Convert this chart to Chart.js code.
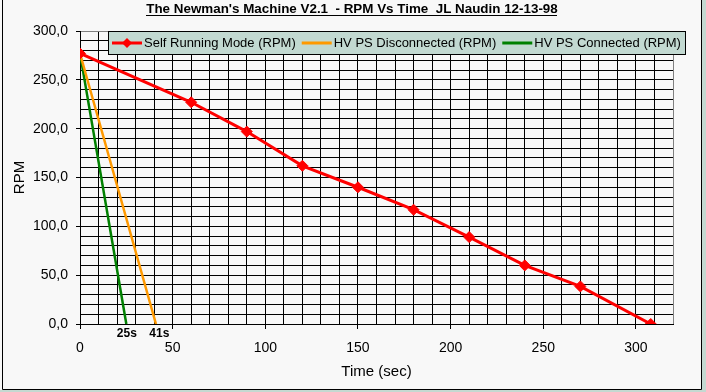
<!DOCTYPE html>
<html><head><meta charset="utf-8">
<script src="https://cdn.jsdelivr.net/npm/chart.js@4"></script>
<style>html,body{margin:0;padding:0;background:#f8f8f8;overflow:hidden}canvas{display:block}</style>
</head><body>
<canvas id="c" width="706" height="392"></canvas>
<script>
const chartTitle = "The Newman's Machine V2.1  - RPM Vs Time  JL Naudin 12-13-98";
const xAxisTitle = 'Time (sec)';
const yAxisTitle = 'RPM';
const seriesLabels = ['Self Running Mode (RPM)', 'HV PS Disconnected (RPM)', 'HV PS Connected (RPM)'];
const selfRunningTime = [0, 60, 90, 120, 150, 180, 210, 240, 270, 308];
const selfRunningRpm  = [277, 227, 197, 162, 140, 117, 89, 60, 38.5, 0];
const disconnectedTime = [0, 41];
const disconnectedRpm  = [277, 0];
const connectedTime = [0, 25];
const connectedRpm  = [277, 0];
const stopLabels = ['25s', '41s'];
const stopTimes  = [25.3, 42.8];
const xMax = 320, yMax = 300;

const FONT = 'Liberation Sans, Arial, sans-serif';
const pts = (xs, ys) => xs.map((x, i) => ({x: x, y: ys[i]}));

const framePlugin = {
  id: 'frame',
  beforeDraw(chart) {
    const ctx = chart.ctx;
    ctx.save();
    ctx.fillStyle = '#f8f8f8';
    ctx.fillRect(0, 0, chart.width, chart.height);
    ctx.fillStyle = '#c4d9d1';
    ctx.fillRect(702, 0, 4, chart.height);
    ctx.fillRect(0, 390, chart.width, 2);
    ctx.strokeStyle = '#000';
    ctx.lineWidth = 1;
    ctx.beginPath();
    ctx.moveTo(2.5, 0); ctx.lineTo(2.5, 389.5);
    ctx.lineTo(701.5, 389.5); ctx.lineTo(701.5, 0);
    ctx.stroke();
    ctx.restore();
  },
  afterDraw(chart) {
    const ctx = chart.ctx;
    ctx.save();
    // title
    ctx.font = 'bold 13.4px ' + FONT;
    ctx.fillStyle = '#000';
    ctx.textBaseline = 'middle';
    ctx.textAlign = 'left';
    const tw = ctx.measureText(chartTitle).width;
    const tx = 352 - tw / 2;
    ctx.fillText(chartTitle, tx, 9.5);
    ctx.fillRect(Math.round(tx), 15, Math.round(tw), 1);
    // legend
    const ds = chart.data.datasets;
    ctx.font = '13px ' + FONT;
    const box = {x: 108.5, y: 31.5, w: 577, h: 23};
    ctx.fillStyle = '#c2d9d1';
    ctx.fillRect(box.x, box.y, box.w, box.h);
    ctx.strokeStyle = '#000';
    ctx.lineWidth = 1;
    ctx.strokeRect(box.x, box.y, box.w, box.h);
    let x = 112;
    const ly = 43;
    ds.forEach((d) => {
      ctx.strokeStyle = d.borderColor;
      ctx.lineWidth = 3;
      ctx.beginPath();
      ctx.moveTo(x, ly); ctx.lineTo(x + 30, ly);
      ctx.stroke();
      if (d.pointRadius > 0) {
        ctx.fillStyle = d.backgroundColor;
        ctx.beginPath();
        ctx.moveTo(x + 15, ly - 5); ctx.lineTo(x + 20, ly); ctx.lineTo(x + 15, ly + 5); ctx.lineTo(x + 10, ly);
        ctx.closePath(); ctx.fill();
      }
      ctx.fillStyle = '#000';
      ctx.fillText(d.label, x + 32, ly + 0.5);
      x += 32 + ctx.measureText(d.label).width + 6;
    });
    // stop annotations
    const xs = chart.scales.x;
    ctx.font = 'bold 12px ' + FONT;
    ctx.textAlign = 'center';
    stopLabels.forEach((t, i) => {
      ctx.fillText(t, xs.getPixelForValue(stopTimes[i]), 333.5);
    });
    ctx.restore();
  }
};

new Chart(document.getElementById('c'), {
  type: 'line',
  data: {
    datasets: [
      {label: seriesLabels[0], data: pts(selfRunningTime, selfRunningRpm), borderColor: '#ff0000', backgroundColor: '#ff0000',
       borderWidth: 3, pointStyle: 'rectRot', pointRadius: 5.5, pointBorderWidth: 1, tension: 0},
      {label: seriesLabels[1], data: pts(disconnectedTime, disconnectedRpm), borderColor: '#ff9900', backgroundColor: '#ff9900',
       borderWidth: 2.5, pointRadius: 0, tension: 0},
      {label: seriesLabels[2], data: pts(connectedTime, connectedRpm), borderColor: '#008000', backgroundColor: '#008000',
       borderWidth: 2.5, pointRadius: 0, tension: 0}
    ]
  },
  options: {
    responsive: false, animation: false, devicePixelRatio: 1,
    layout: {padding: {left: 11, right: 33, top: 31, bottom: 11}},
    plugins: {legend: {display: false}, title: {display: false}, tooltip: {enabled: false}},
    scales: {
      x: {
        type: 'linear', min: 0, max: xMax,
        afterFit(s) { s.height = 57; },
        ticks: {stepSize: 10, autoSkip: false, maxRotation: 0, color: '#000', padding: 11,
                font: {family: FONT, size: 14},
                callback: v => (v % 50 === 0 && v <= 300) ? String(v) : ''},
        grid: {lineWidth: 1, tickLength: 5,
               color: c => (c.tick && c.tick.value === xMax) ? '#808080' : '#000',
               tickColor: c => (c.tick && c.tick.value % 50 === 0 && c.tick.value <= 300) ? '#000' : 'rgba(0,0,0,0)'},
        border: {color: '#000', width: 1},
        title: {display: true, text: xAxisTitle, color: '#000', font: {family: FONT, size: 15}, padding: 0}
      },
      y: {
        type: 'linear', min: 0, max: yMax,
        afterFit(s) { s.width = 69; },
        ticks: {stepSize: 10, autoSkip: false, color: '#000', padding: 8,
                font: {family: FONT, size: 14},
                callback: v => (v % 50 === 0) ? v.toFixed(1).replace('.', ',') : ''},
        grid: {lineWidth: 1, tickLength: 4,
               color: c => (c.tick && c.tick.value === yMax) ? '#808080' : '#000',
               tickColor: c => (c.tick && c.tick.value % 50 === 0) ? '#000' : 'rgba(0,0,0,0)'},
        border: {color: '#000', width: 1},
        title: {display: true, text: yAxisTitle, color: '#000', font: {family: FONT, size: 15}, padding: 0}
      }
    }
  },
  plugins: [framePlugin]
});
</script>
</body></html>
